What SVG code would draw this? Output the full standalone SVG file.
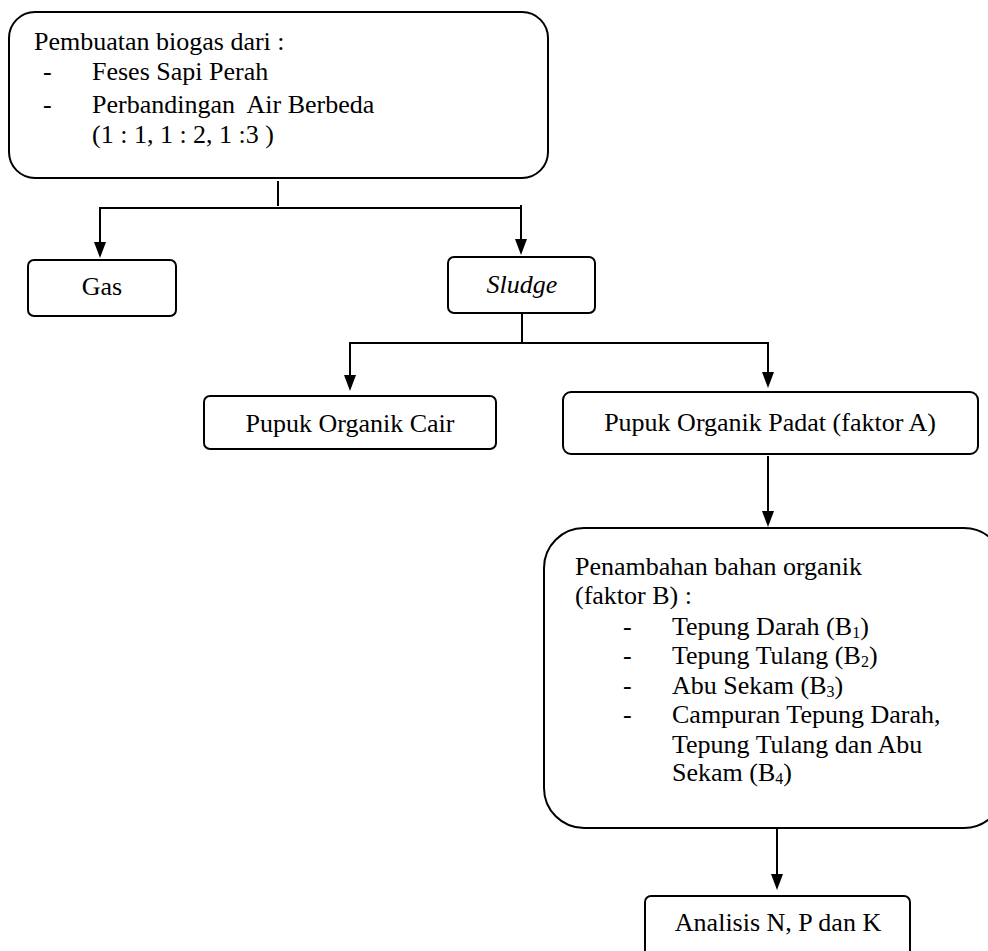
<svg xmlns="http://www.w3.org/2000/svg" width="988" height="951" viewBox="0 0 988 951">
<style>
.box{fill:#fff;stroke:#000;stroke-width:2}
.t{font-family:"Liberation Serif","Times New Roman",serif;font-size:26px;fill:#000}
.c{text-anchor:middle}
.ln{fill:none;stroke:#000;stroke-width:2}
.s{font-size:16px}
</style>
<rect width="988" height="951" fill="#fff"/>
<g id="connectors">
<line class="ln" x1="278" y1="181" x2="278" y2="206"/>
<polyline class="ln" points="100,208 521,208"/>
<line class="ln" x1="100" y1="207" x2="100" y2="244"/>
<path d="M94,242 L106,242 L100,258 Z"/>
<line class="ln" x1="521" y1="205" x2="521" y2="241"/>
<path d="M515,239 L527,239 L521,255 Z"/>
<line class="ln" x1="522" y1="314" x2="522" y2="343"/>
<polyline class="ln" points="350,343 768,343"/>
<line class="ln" x1="350" y1="342" x2="350" y2="377"/>
<path d="M344,375 L356,375 L350,391 Z"/>
<line class="ln" x1="768" y1="342" x2="768" y2="374"/>
<path d="M762,372 L774,372 L768,388 Z"/>
<line class="ln" x1="768" y1="456" x2="768" y2="513"/>
<path d="M762,511 L774,511 L768,527 Z"/>
<line class="ln" x1="777" y1="829" x2="777" y2="876"/>
<path d="M771,874 L783,874 L777,890 Z"/>
</g>
<g id="node-biogas">
<rect class="box" x="9" y="12" width="539" height="166" rx="26"/>
<text class="t" x="34" y="50">Pembuatan biogas dari :</text>
<text class="t" x="43" y="80">-</text>
<text class="t" x="92" y="80">Feses Sapi Perah</text>
<text class="t" x="43" y="113">-</text>
<text class="t" x="92" y="113" xml:space="preserve">Perbandingan  Air Berbeda</text>
<text class="t" x="92" y="143">(1 : 1, 1 : 2, 1 :3 )</text>
</g>
<g id="node-gas">
<rect class="box" x="28" y="260" width="148" height="56" rx="6"/>
<text class="t c" x="102" y="295">Gas</text>
</g>
<g id="node-sludge">
<rect class="box" x="448" y="257" width="147" height="56" rx="6"/>
<text class="t c" x="522" y="293" font-style="italic">Sludge</text>
</g>
<g id="node-cair">
<rect class="box" x="204" y="396" width="292" height="53" rx="6"/>
<text class="t c" x="350" y="432">Pupuk Organik Cair</text>
</g>
<g id="node-padat">
<rect class="box" x="563" y="392" width="415" height="62" rx="8"/>
<text class="t c" x="770" y="431">Pupuk Organik Padat (faktor A)</text>
</g>
<g id="node-bahan">
<rect class="box" x="544" y="528" width="460" height="300" rx="40"/>
<text class="t" x="575" y="575">Penambahan bahan organik</text>
<text class="t" x="575" y="604">(faktor B) :</text>
<text class="t" x="623" y="635">-</text>
<text class="t" x="672" y="635">Tepung Darah (B<tspan class="s" dy="3">1</tspan><tspan dy="-3">)</tspan></text>
<text class="t" x="623" y="664">-</text>
<text class="t" x="672" y="664">Tepung Tulang (B<tspan class="s" dy="3">2</tspan><tspan dy="-3">)</tspan></text>
<text class="t" x="623" y="694">-</text>
<text class="t" x="672" y="694">Abu Sekam (B<tspan class="s" dy="3">3</tspan><tspan dy="-3">)</tspan></text>
<text class="t" x="623" y="723">-</text>
<text class="t" x="672" y="723">Campuran Tepung Darah,</text>
<text class="t" x="672" y="753">Tepung Tulang dan Abu</text>
<text class="t" x="672" y="781">Sekam (B<tspan class="s" dy="3">4</tspan><tspan dy="-3">)</tspan></text>
</g>
<g id="node-analisis">
<rect class="box" x="645" y="896" width="265" height="70" rx="6"/>
<text class="t c" x="778" y="931">Analisis N, P dan K</text>
</g>
</svg>
